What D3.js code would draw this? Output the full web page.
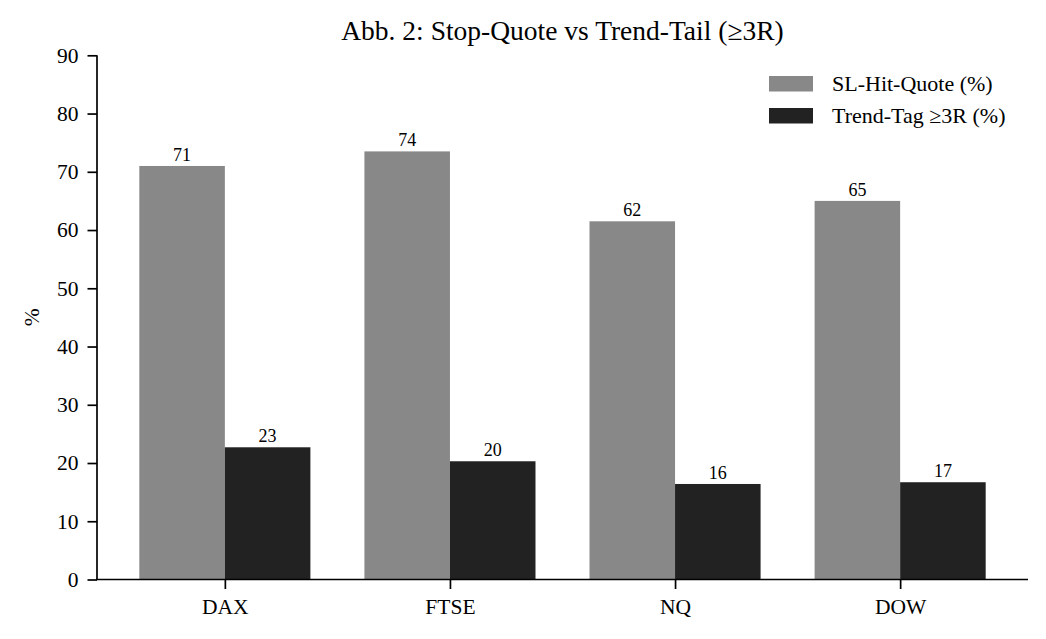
<!DOCTYPE html>
<html>
<head>
<meta charset="utf-8">
<script src="https://cdn.jsdelivr.net/npm/d3@7"></script>
<style>
  html, body { margin: 0; padding: 0; background: #fff; }
  svg { display: block; font-family: "Liberation Serif", "Times New Roman", serif; }
</style>
</head>
<body>
<svg id="chart" width="1046" height="639"></svg>
<script>
const categories = ["DAX", "FTSE", "NQ", "DOW"];
const seriesNames = ["SL-Hit-Quote (%)", "Trend-Tag \u22653R (%)"];
const slHit = [71.0, 73.5, 61.5, 65.0];
const trendTag = [22.7, 20.3, 16.4, 16.7];
const yTicks = [0, 10, 20, 30, 40, 50, 60, 70, 80, 90];
const colors = ["#888888", "#222222"];

(function () {
const svg = d3.select("#chart");
const pLeft = 97, pRight = 1028, pTop = 55.3, pBottom = 579.5;
const barW = 0.38;
const tickFont = 21.5;

const x = d3.scaleLinear().domain([-0.568, 3.568]).range([pLeft, pRight]);
const y = d3.scaleLinear().domain([0, 90]).range([pBottom, pTop]);

const series = [slHit, trendTag];
series.forEach((vals, si) => {
  const off = si === 0 ? -barW : 0;
  svg.append("g").selectAll("rect").data(vals).join("rect")
    .attr("x", (d, i) => x(i + off))
    .attr("width", (d, i) => x(i + off + barW) - x(i + off))
    .attr("y", d => y(d))
    .attr("height", d => y(0) - y(d))
    .attr("fill", colors[si]);
  svg.append("g").selectAll("text").data(vals).join("text")
    .attr("x", (d, i) => x(i + off + barW / 2))
    .attr("y", d => y(d) - 5)
    .attr("text-anchor", "middle")
    .attr("font-size", 18)
    .attr("fill", "#000")
    .text(d => d3.format(".0f")(d));
});

// Y axis
const yAxis = d3.axisLeft(y).tickValues(yTicks).tickSize(9.5).tickPadding(9).tickFormat(d3.format("d"));
const gy = svg.append("g").attr("transform", `translate(${pLeft},0)`).call(yAxis);
gy.select(".domain").attr("stroke-width", 1.7).attr("d", `M0,${pTop}V${pBottom}`);
gy.selectAll(".tick line").attr("stroke-width", 1.7);
gy.selectAll(".tick text").attr("font-size", tickFont).attr("font-family", "Liberation Serif, serif").attr("fill", "#000");

// X axis
const xAxis = d3.axisBottom(x).tickValues(d3.range(categories.length)).tickSize(9.5).tickPadding(10)
  .tickFormat(i => categories[i]);
const gx = svg.append("g").attr("transform", `translate(0,${pBottom})`).call(xAxis);
gx.select(".domain").attr("stroke-width", 1.7).attr("d", `M${pLeft - 0.85},0H${pRight}`);
gx.selectAll(".tick line").attr("stroke-width", 1.7);
gx.selectAll(".tick text").attr("font-size", tickFont).attr("font-family", "Liberation Serif, serif").attr("fill", "#000");

// Y label
svg.append("text")
  .attr("transform", `translate(39,${(pTop + pBottom) / 2}) rotate(-90)`)
  .attr("text-anchor", "middle")
  .attr("font-size", tickFont)
  .text("%");

// Title
svg.append("text")
  .attr("x", (pLeft + pRight) / 2)
  .attr("y", 40)
  .attr("text-anchor", "middle")
  .attr("font-size", 27.5)
  .text("Abb. 2: Stop-Quote vs Trend-Tail (\u22653R)");

// Legend
const leg = svg.append("g");
seriesNames.forEach((name, i) => {
  const yy = 76 + i * 32;
  leg.append("rect").attr("x", 769).attr("y", yy).attr("width", 44).attr("height", 15.5).attr("fill", colors[i]);
  leg.append("text").attr("x", 832).attr("y", yy + 15).attr("font-size", 22).text(name);
});
})();
</script>
</body>
</html>
